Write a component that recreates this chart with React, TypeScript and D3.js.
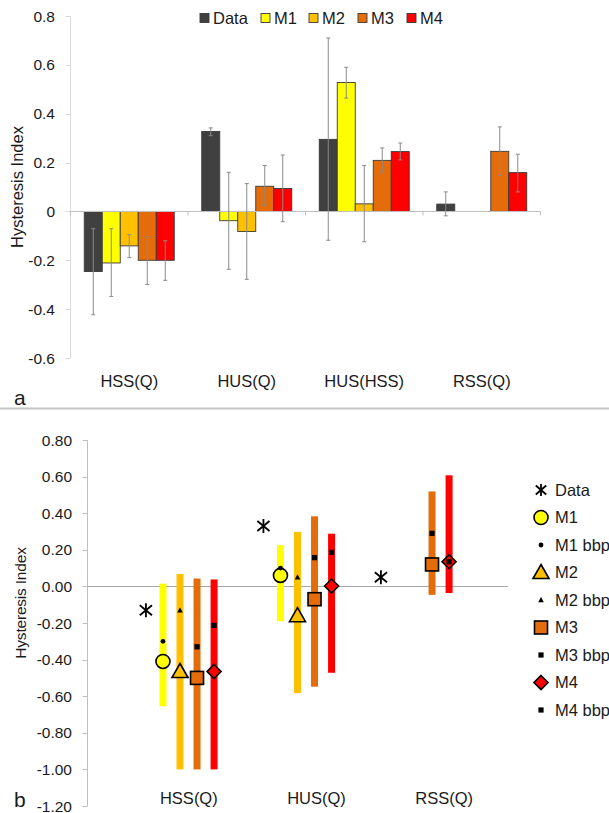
import React from "react";
import * as d3 from "d3";

// ---------- Panel a data ----------
const categoriesA = ["HSS(Q)", "HUS(Q)", "HUS(HSS)", "RSS(Q)"];
const seriesNamesA = ["Data", "M1", "M2", "M3", "M4"];

const dataA = [-0.246, 0.327, 0.295, 0.03];
const dataALo = [-0.423, 0.31, -0.118, -0.018];
const dataAHi = [-0.071, 0.342, 0.71, 0.08];

const m1A = [-0.211, -0.038, 0.528, null];
const m1ALo = [-0.348, -0.237, 0.464, null];
const m1AHi = [-0.071, 0.16, 0.59, null];

const m2A = [-0.141, -0.082, 0.031, null];
const m2ALo = [-0.189, -0.278, -0.124, null];
const m2AHi = [-0.095, 0.114, 0.188, null];

const m3A = [-0.2, 0.103, 0.209, 0.246];
const m3ALo = [-0.299, 0.024, 0.159, 0.148];
const m3AHi = [-0.103, 0.188, 0.26, 0.346];

const m4A = [-0.2, 0.094, 0.245, 0.159];
const m4ALo = [-0.282, -0.042, 0.211, 0.08];
const m4AHi = [-0.12, 0.231, 0.28, 0.234];

const ticksA = [0.8, 0.6, 0.4, 0.2, 0, -0.2, -0.4, -0.6];

// ---------- Panel b data ----------
const categoriesB = ["HSS(Q)", "HUS(Q)", "RSS(Q)"];
const dataB = [-0.13, 0.33, 0.05];

const m1B = [-0.41, 0.06, null];
const m1Bbbp = [-0.3, 0.1, null];
const m1BLo = [-0.655, -0.19, null];
const m1BHi = [0.015, 0.225, null];

const m2B = [-0.465, -0.16, null];
const m2Bbbp = [-0.13, 0.05, null];
const m2BLo = [-1.0, -0.583, null];
const m2BHi = [0.068, 0.298, null];

const m3B = [-0.5, -0.07, 0.12];
const m3Bbbp = [-0.33, 0.157, 0.29];
const m3BLo = [-1.0, -0.548, -0.046];
const m3BHi = [0.043, 0.383, 0.519];

const m4B = [-0.465, 0.002, 0.135];
const m4Bbbp = [-0.213, 0.186, 0.135];
const m4BLo = [-1.0, -0.472, -0.036];
const m4BHi = [0.038, 0.288, 0.607];

const ticksB = [0.8, 0.6, 0.4, 0.2, 0, -0.2, -0.4, -0.6, -0.8, -1.0, -1.2];
const legendB = ["Data", "M1", "M1 bbp", "M2", "M2 bbp", "M3", "M3 bbp", "M4", "M4 bbp"];

const COLORS = { Data: "#404040", M1: "#FFFF00", M2: "#FFC000", M3: "#E46C0A", M4: "#FF0000" };
const FONT = "'Liberation Sans', Arial, Helvetica, sans-serif";

const seriesA = [
  { name: "Data", v: dataA, lo: dataALo, hi: dataAHi },
  { name: "M1", v: m1A, lo: m1ALo, hi: m1AHi },
  { name: "M2", v: m2A, lo: m2ALo, hi: m2AHi },
  { name: "M3", v: m3A, lo: m3ALo, hi: m3AHi },
  { name: "M4", v: m4A, lo: m4ALo, hi: m4AHi },
];

const seriesB = [
  { name: "M1", v: m1B, bbp: m1Bbbp, lo: m1BLo, hi: m1BHi, off: -0.145 },
  { name: "M2", v: m2B, bbp: m2Bbbp, lo: m2BLo, hi: m2BHi, off: 0 },
  { name: "M3", v: m3B, bbp: m3Bbbp, lo: m3BLo, hi: m3BHi, off: 0.145 },
  { name: "M4", v: m4B, bbp: m4Bbbp, lo: m4BLo, hi: m4BHi, off: 0.29 },
];
const dataOffB = -0.29;

function Asterisk({ x, y, s = 7 }: { x: number; y: number; s?: number }) {
  const dx = s * 0.87, dy = s * 0.5;
  return (
    <g stroke="#000" strokeWidth={1.8} strokeLinecap="butt">
      <line x1={x} y1={y - s} x2={x} y2={y + s} />
      <line x1={x - dx} y1={y - dy - 1.5} x2={x + dx} y2={y + dy + 1.5} />
      <line x1={x - dx} y1={y + dy + 1.5} x2={x + dx} y2={y - dy - 1.5} />
    </g>
  );
}

function MainMarker({ name, x, y }: { name: string; x: number; y: number }) {
  const fill = (COLORS as any)[name];
  const st = { stroke: "#000", strokeWidth: 1.6, fill };
  if (name === "M1") return <circle cx={x} cy={y} r={7} {...st} />;
  if (name === "M2") {
    const s = 8;
    return <path d={`M${x},${y - s}L${x + s},${y + s * 0.75}L${x - s},${y + s * 0.75}Z`} {...st} />;
  }
  if (name === "M3") return <rect x={x - 6.5} y={y - 6.5} width={13} height={13} {...st} />;
  return <path d={`M${x},${y - 7}L${x + 7},${y}L${x},${y + 7}L${x - 7},${y}Z`} {...st} />;
}

function BbpMarker({ name, x, y }: { name: string; x: number; y: number }) {
  if (name === "M1") return <circle cx={x} cy={y} r={2.4} fill="#000" />;
  if (name === "M2") return <path d={`M${x},${y - 3}L${x + 2.8},${y + 2.2}L${x - 2.8},${y + 2.2}Z`} fill="#000" />;
  return <rect x={x - 2.6} y={y - 2.6} width={5.2} height={5.2} fill="#000" />;
}

export default function App() {
  // ----- panel a scales -----
  const yA = d3.scaleLinear().domain([-0.6, 0.8]).range([358, 16]);
  const xA = d3.scaleBand<string>().domain(categoriesA).range([70.5, 540.5]);
  const groupW = 90;
  const xInner = d3.scaleBand<string>().domain(seriesNamesA).range([0, groupW]);
  const legendAX = [200, 261, 309, 358, 407];

  // ----- panel b scales -----
  const yB = d3.scaleLinear().domain([-1.2, 0.8]).range([806, 440]);
  const xB = d3.scaleLinear().domain([0.2, 3.8]).range([86, 509]);
  const xLabB = d3.scaleBand<string>().domain(categoriesB).range([125, 508]);

  const fmtA = (v: number) => (Math.abs(v) < 1e-9 ? "0" : v.toFixed(1));
  const fmtB = (v: number) => (Math.abs(v) < 1e-9 ? "0.00" : v.toFixed(2));

  return (
    <svg width={609} height={813} style={{ position: "absolute", left: 0, top: 0, background: "#fff" }} fontFamily={FONT}>
      <rect width={609} height={813} fill="#fff" />
      {/* ================= Panel a ================= */}
      {/* y axis */}
      <line x1={70.5} x2={70.5} y1={yA(0.8)} y2={yA(-0.6)} stroke="#d9d9d9" strokeWidth={1} />
      {ticksA.map((t) => (
        <g key={"ta" + t}>
          <line x1={65.5} x2={70.5} y1={Math.round(yA(t)) + 0.5} y2={Math.round(yA(t)) + 0.5} stroke="#d9d9d9" />
          <text x={55} y={yA(t)} dy="0.36em" textAnchor="end" fontSize={15.5} fill="#1a1a1a">
            {fmtA(t)}
          </text>
        </g>
      ))}
      <text transform={`translate(23,${(yA(0.8) + yA(-0.6)) / 2}) rotate(-90)`} textAnchor="middle" fontSize={16.5} fill="#1a1a1a">
        Hysteresis Index
      </text>

      {/* bars */}
      {seriesA.map((s) =>
        categoriesA.map((c, i) => {
          const v = s.v[i];
          if (v == null) return null;
          const x = (xA(c) as number) + (xA.bandwidth() - groupW) / 2 + (xInner(s.name) as number);
          const w = xInner.bandwidth();
          const y0 = yA(0), y1 = yA(v);
          return (
            <rect key={s.name + c} x={x} y={Math.min(y0, y1)} width={w} height={Math.abs(y1 - y0)}
              fill={(COLORS as any)[s.name]} stroke="#3a3a3a" strokeWidth={0.9} />
          );
        })
      )}
      {/* zero line */}
      <line x1={70.5} x2={540.5} y1={Math.round(yA(0)) + 0.5} y2={Math.round(yA(0)) + 0.5} stroke="#bfbfbf" strokeWidth={1} />
      {[...categoriesA.map((c) => xA(c) as number), 540.5].map((x, i) => (
        <line key={"ct" + i} x1={x} x2={x} y1={yA(0)} y2={yA(0) + 4} stroke="#bfbfbf" />
      ))}
      {/* error bars */}
      {seriesA.map((s) =>
        categoriesA.map((c, i) => {
          const v = s.v[i];
          if (v == null) return null;
          const cx = (xA(c) as number) + (xA.bandwidth() - groupW) / 2 + (xInner(s.name) as number) + xInner.bandwidth() / 2;
          const ylo = yA(s.lo[i] as number), yhi = yA(s.hi[i] as number);
          return (
            <g key={"e" + s.name + c} stroke="#8a8a8a" strokeWidth={1}>
              <line x1={cx} x2={cx} y1={ylo} y2={yhi} />
              <line x1={cx - 2} x2={cx + 2} y1={ylo} y2={ylo} />
              <line x1={cx - 2} x2={cx + 2} y1={yhi} y2={yhi} />
            </g>
          );
        })
      )}
      {/* category labels */}
      {categoriesA.map((c) => (
        <text key={"ca" + c} x={(xA(c) as number) + xA.bandwidth() / 2} y={387} textAnchor="middle" fontSize={16.5} fill="#1a1a1a">
          {c}
        </text>
      ))}
      {/* legend a */}
      {seriesNamesA.map((n, i) => (
        <g key={"la" + n}>
          <rect x={legendAX[i]} y={13.5} width={9} height={9} fill={(COLORS as any)[n]} stroke="#3a3a3a" strokeWidth={0.9} />
          <text x={legendAX[i] + 13} y={18} dy="0.36em" fontSize={16.5} fill="#1a1a1a">
            {n}
          </text>
        </g>
      ))}
      <text x={14} y={405} fontSize={21} fill="#1a1a1a">a</text>

      {/* separator */}
      <line x1={0} x2={609} y1={408.5} y2={408.5} stroke="#c4c4c4" strokeWidth={2} />

      {/* ================= Panel b ================= */}
      <line x1={87.5} x2={87.5} y1={yB(0.8)} y2={yB(-1.2)} stroke="#bfbfbf" />
      {ticksB.map((t) => (
        <g key={"tb" + t}>
          <line x1={82.5} x2={87.5} y1={Math.round(yB(t)) + 0.5} y2={Math.round(yB(t)) + 0.5} stroke="#bfbfbf" />
          <text x={72} y={yB(t)} dy="0.36em" textAnchor="end" fontSize={15.5} fill="#1a1a1a">
            {fmtB(t)}
          </text>
        </g>
      ))}
      <text transform={`translate(26,603) rotate(-90)`} textAnchor="middle" fontSize={15.5} letterSpacing={-0.2} fill="#1a1a1a">
        Hysteresis Index
      </text>
      <line x1={87.5} x2={508} y1={Math.round(yB(0)) + 0.5} y2={Math.round(yB(0)) + 0.5} stroke="#a6a6a6" />

      {/* range bars */}
      {seriesB.map((s) =>
        categoriesB.map((c, i) => {
          if (s.lo[i] == null) return null;
          const cx = xB(i + 1 + s.off);
          const y1 = yB(s.hi[i] as number), y2 = yB(s.lo[i] as number);
          return <rect key={"r" + s.name + c} x={cx - 3.5} y={y1} width={7} height={y2 - y1} fill={(COLORS as any)[s.name]} />;
        })
      )}
      {/* data asterisks */}
      {categoriesB.map((c, i) => (
        <Asterisk key={"d" + c} x={xB(i + 1 + dataOffB)} y={yB(dataB[i])} />
      ))}
      {/* markers */}
      {seriesB.map((s) =>
        categoriesB.map((c, i) => {
          if (s.v[i] == null) return null;
          const cx = xB(i + 1 + s.off);
          return (
            <g key={"m" + s.name + c}>
              <MainMarker name={s.name} x={cx} y={yB(s.v[i] as number)} />
              <BbpMarker name={s.name} x={cx} y={yB(s.bbp[i] as number)} />
            </g>
          );
        })
      )}
      {/* category labels b */}
      {categoriesB.map((c) => (
        <text key={"cb" + c} x={(xLabB(c) as number) + xLabB.bandwidth() / 2} y={804} textAnchor="middle" fontSize={16.5} fill="#1a1a1a">
          {c}
        </text>
      ))}
      {/* legend b */}
      {legendB.map((n, i) => {
        const y = 490 + i * 27.5;
        const x = 541;
        let marker: any;
        if (n === "Data") marker = <Asterisk x={x} y={y} s={6} />;
        else if (n.endsWith("bbp")) marker = <BbpMarker name={n.slice(0, 2)} x={x} y={y} />;
        else marker = <MainMarker name={n} x={x} y={y} />;
        return (
          <g key={"lb" + n}>
            {marker}
            <text x={555} y={y} dy="0.36em" fontSize={16.5} fill="#1a1a1a">
              {n}
            </text>
          </g>
        );
      })}
      <text x={14} y={807} fontSize={21} fill="#1a1a1a">b</text>
    </svg>
  );
}
